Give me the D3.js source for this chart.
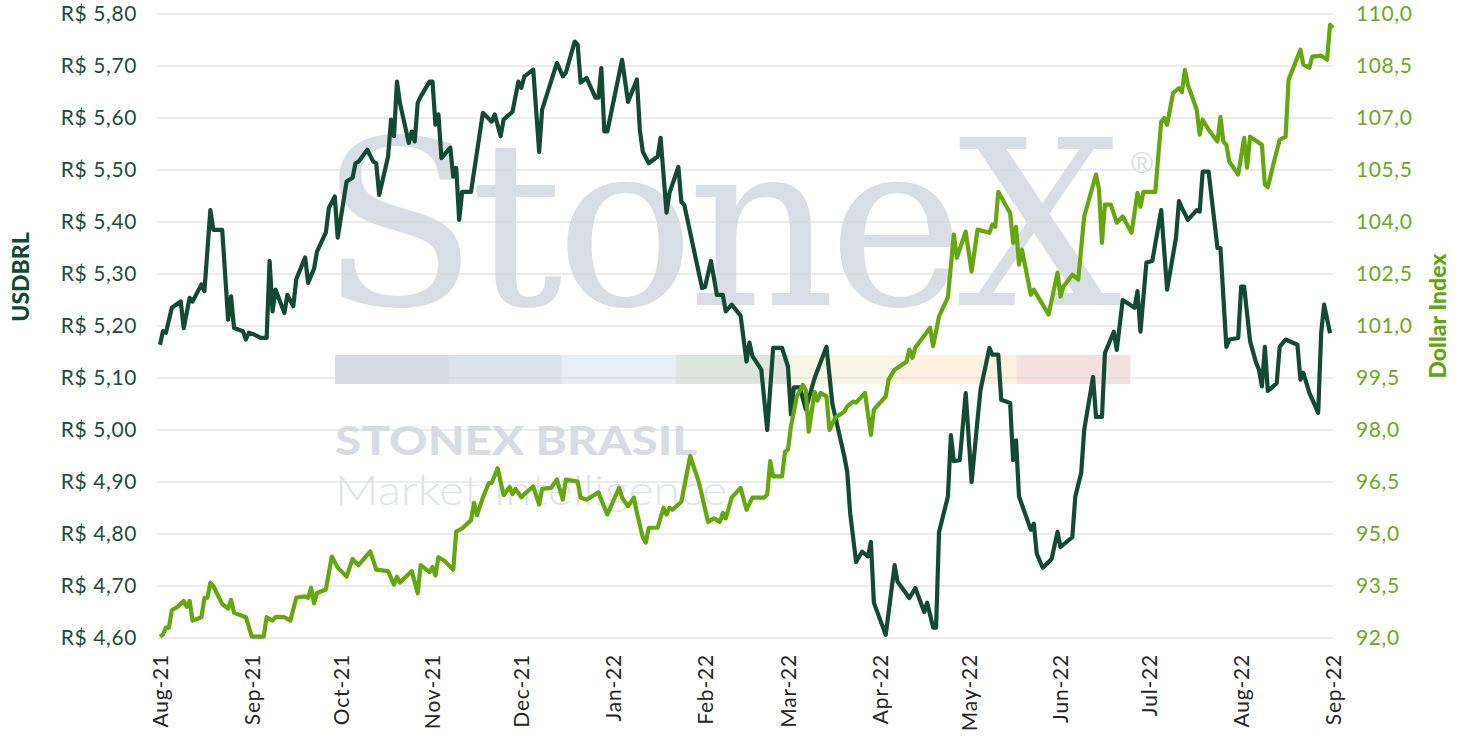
<!DOCTYPE html>
<html>
<head>
<meta charset="utf-8">
<script src="https://cdn.jsdelivr.net/npm/d3@7"></script>
<style>
  html, body { margin: 0; padding: 0; background: #ffffff; }
  #chart { width: 1461px; height: 740px; }
</style>
</head>
<body>
<div id="chart"></div>
<script>
// USDBRL (left axis) - daily closes
const usdDates = [
  "2021-08-01","2021-08-02","2021-08-03","2021-08-05","2021-08-08","2021-08-09","2021-08-11","2021-08-12","2021-08-15","2021-08-16",
  "2021-08-18","2021-08-19","2021-08-22","2021-08-24","2021-08-25","2021-08-26","2021-08-29","2021-08-30","2021-08-31","2021-09-02",
  "2021-09-04","2021-09-06","2021-09-07","2021-09-08","2021-09-09","2021-09-12","2021-09-13","2021-09-15","2021-09-16","2021-09-19",
  "2021-09-20","2021-09-22","2021-09-23","2021-09-26","2021-09-27","2021-09-29","2021-09-30","2021-10-03","2021-10-05","2021-10-06",
  "2021-10-07","2021-10-10","2021-10-12","2021-10-13","2021-10-14","2021-10-17","2021-10-18","2021-10-19","2021-10-20","2021-10-21",
  "2021-10-24","2021-10-25","2021-10-26","2021-10-27","2021-10-28","2021-10-31","2021-11-01","2021-11-02","2021-11-03","2021-11-04",
  "2021-11-07","2021-11-08","2021-11-09","2021-11-10","2021-11-11","2021-11-14","2021-11-18","2021-11-21","2021-11-22","2021-11-24",
  "2021-11-25","2021-11-28","2021-11-30","2021-12-01","2021-12-02","2021-12-05","2021-12-07","2021-12-08","2021-12-13","2021-12-15",
  "2021-12-16","2021-12-19","2021-12-20","2021-12-21","2021-12-23","2021-12-26","2021-12-27","2021-12-28","2021-12-29","2021-12-30",
  "2022-01-04","2022-01-06","2022-01-09","2022-01-10","2022-01-11","2022-01-13","2022-01-16","2022-01-17","2022-01-19","2022-01-20",
  "2022-01-23","2022-01-24","2022-01-25","2022-01-31","2022-02-01","2022-02-03","2022-02-05","2022-02-07","2022-02-08","2022-02-10",
  "2022-02-13","2022-02-15","2022-02-16","2022-02-17","2022-02-20","2022-02-22","2022-02-24","2022-02-27","2022-03-01","2022-03-02",
  "2022-03-03","2022-03-05","2022-03-07","2022-03-10","2022-03-14","2022-03-16","2022-03-18","2022-03-20","2022-03-21","2022-03-22",
  "2022-03-24","2022-03-26","2022-03-28","2022-03-29","2022-03-30","2022-04-03","2022-04-06","2022-04-07","2022-04-11","2022-04-13",
  "2022-04-16","2022-04-17","2022-04-19","2022-04-20","2022-04-21","2022-04-24","2022-04-25","2022-04-26","2022-04-28","2022-04-30",
  "2022-05-02","2022-05-04","2022-05-05","2022-05-08","2022-05-09","2022-05-11","2022-05-12","2022-05-15","2022-05-16","2022-05-17",
  "2022-05-18","2022-05-22","2022-05-23","2022-05-24","2022-05-26","2022-05-29","2022-05-31","2022-06-01","2022-06-05","2022-06-06",
  "2022-06-08","2022-06-09","2022-06-12","2022-06-13","2022-06-15","2022-06-16","2022-06-19","2022-06-20","2022-06-22","2022-06-26",
  "2022-06-27","2022-06-28","2022-06-30","2022-07-02","2022-07-05","2022-07-07","2022-07-10","2022-07-11","2022-07-12","2022-07-14",
  "2022-07-17","2022-07-18","2022-07-19","2022-07-21","2022-07-24","2022-07-25","2022-07-27","2022-07-28","2022-07-31","2022-08-01",
  "2022-08-02","2022-08-04","2022-08-06","2022-08-07","2022-08-08","2022-08-09","2022-08-10","2022-08-13","2022-08-14","2022-08-16",
  "2022-08-20","2022-08-21","2022-08-22","2022-08-24","2022-08-27","2022-08-28","2022-08-29","2022-08-31"
];
const usdValues = [
  5.164,5.19,5.187,5.235,5.247,5.196,5.254,5.247,5.28,5.267,
  5.423,5.385,5.385,5.212,5.257,5.196,5.19,5.174,5.187,5.183,
  5.177,5.177,5.325,5.228,5.27,5.225,5.26,5.238,5.29,5.332,
  5.283,5.31,5.343,5.38,5.427,5.449,5.37,5.478,5.485,5.513,
  5.516,5.539,5.516,5.513,5.452,5.526,5.597,5.565,5.67,5.629,
  5.552,5.574,5.555,5.629,5.641,5.67,5.67,5.587,5.607,5.523,
  5.543,5.487,5.504,5.404,5.458,5.458,5.61,5.593,5.607,5.565,
  5.597,5.612,5.67,5.658,5.68,5.693,5.535,5.616,5.706,5.68,
  5.687,5.747,5.741,5.668,5.677,5.639,5.639,5.696,5.574,5.574,
  5.712,5.631,5.674,5.577,5.535,5.513,5.526,5.562,5.418,5.456,
  5.506,5.439,5.433,5.273,5.275,5.325,5.26,5.26,5.228,5.241,
  5.22,5.132,5.168,5.142,5.116,5.0,5.158,5.158,5.122,5.03,
  5.082,5.082,5.04,5.10,5.16,5.05,5.0,4.95,4.92,4.84,
  4.746,4.766,4.757,4.785,4.668,4.606,4.74,4.708,4.677,4.696,
  4.65,4.668,4.62,4.62,4.804,4.872,4.99,4.94,4.942,5.071,
  4.9,5.02,5.077,5.158,5.145,5.145,5.058,5.052,4.942,4.98,
  4.872,4.808,4.82,4.762,4.735,4.752,4.804,4.775,4.794,4.872,
  4.918,5.0,5.102,5.025,5.025,5.148,5.189,5.154,5.25,5.235,
  5.267,5.189,5.322,5.325,5.423,5.27,5.37,5.44,5.427,5.404,
  5.423,5.42,5.497,5.497,5.35,5.35,5.16,5.174,5.177,5.276,
  5.276,5.171,5.13,5.116,5.084,5.16,5.075,5.09,5.16,5.174,
  5.164,5.097,5.11,5.072,5.033,5.186,5.241,5.186
];

// Dollar Index (right axis)
const dxyDates = [
  "2021-08-01","2021-08-02","2021-08-03","2021-08-04","2021-08-05","2021-08-07","2021-08-09","2021-08-10","2021-08-11","2021-08-12",
  "2021-08-15","2021-08-16","2021-08-17","2021-08-18","2021-08-19","2021-08-22","2021-08-24","2021-08-25","2021-08-26","2021-08-30",
  "2021-09-01","2021-09-05","2021-09-06","2021-09-08","2021-09-09","2021-09-12","2021-09-14","2021-09-16","2021-09-19","2021-09-20",
  "2021-09-21","2021-09-22","2021-09-23","2021-09-26","2021-09-28","2021-09-30","2021-10-03","2021-10-05","2021-10-07","2021-10-11",
  "2021-10-13","2021-10-17","2021-10-19","2021-10-20","2021-10-21","2021-10-25","2021-10-27","2021-10-28","2021-10-31","2021-11-01",
  "2021-11-02","2021-11-03","2021-11-05","2021-11-08","2021-11-09","2021-11-11","2021-11-14","2021-11-15","2021-11-16","2021-11-18",
  "2021-11-20","2021-11-21","2021-11-23","2021-11-25","2021-11-27","2021-11-28","2021-11-29","2021-12-01","2021-12-02","2021-12-05",
  "2021-12-07","2021-12-08","2021-12-11","2021-12-13","2021-12-15","2021-12-16","2021-12-20","2021-12-21","2021-12-23","2021-12-27",
  "2021-12-30","2022-01-02","2022-01-03","2022-01-04","2022-01-06","2022-01-08","2022-01-09","2022-01-11","2022-01-12","2022-01-13",
  "2022-01-16","2022-01-18","2022-01-19","2022-01-20","2022-01-21","2022-01-24","2022-01-27","2022-01-30","2022-02-02","2022-02-04",
  "2022-02-06","2022-02-07","2022-02-08","2022-02-10","2022-02-13","2022-02-15","2022-02-17","2022-02-21","2022-02-22","2022-02-23",
  "2022-02-24","2022-02-27","2022-02-28","2022-03-01","2022-03-02","2022-03-04","2022-03-06","2022-03-07","2022-03-08","2022-03-10",
  "2022-03-11","2022-03-12","2022-03-14","2022-03-15","2022-03-17","2022-03-20","2022-03-21","2022-03-23","2022-03-24","2022-03-27",
  "2022-03-29","2022-03-30","2022-04-03","2022-04-04","2022-04-06","2022-04-10","2022-04-11","2022-04-12","2022-04-13","2022-04-18",
  "2022-04-19","2022-04-21","2022-04-24","2022-04-26","2022-04-27","2022-04-30","2022-05-02","2022-05-04","2022-05-08","2022-05-09",
  "2022-05-10","2022-05-11","2022-05-15","2022-05-16","2022-05-17","2022-05-18","2022-05-19","2022-05-22","2022-05-23","2022-05-28",
  "2022-05-31","2022-06-01","2022-06-02","2022-06-05","2022-06-07","2022-06-09","2022-06-13","2022-06-14","2022-06-15","2022-06-16",
  "2022-06-18","2022-06-20","2022-06-22","2022-06-25","2022-06-27","2022-06-28","2022-06-29","2022-07-03","2022-07-05","2022-07-06",
  "2022-07-07","2022-07-09","2022-07-11","2022-07-12","2022-07-13","2022-07-14","2022-07-17","2022-07-18","2022-07-19","2022-07-21",
  "2022-07-24","2022-07-25","2022-07-26","2022-07-27","2022-07-28","2022-07-31","2022-08-02","2022-08-03","2022-08-04","2022-08-08",
  "2022-08-09","2022-08-10","2022-08-12","2022-08-14","2022-08-16","2022-08-17","2022-08-21","2022-08-22","2022-08-24","2022-08-25",
  "2022-08-28","2022-08-30","2022-08-31","2022-09-01"
];
const dxyValues = [
  92.04,92.1,92.3,92.3,92.8,92.9,93.07,92.9,93.07,92.5,
  92.6,93.16,93.16,93.6,93.5,92.98,92.85,93.1,92.73,92.6,
  92.04,92.04,92.6,92.5,92.6,92.6,92.5,93.16,93.2,93.16,
  93.45,93.0,93.3,93.4,94.35,94.03,93.77,94.28,94.1,94.5,
  93.97,93.93,93.54,93.77,93.6,93.93,93.29,94.1,93.9,94.05,
  93.8,94.33,94.23,93.97,95.07,95.16,95.4,95.9,95.54,96.05,
  96.47,96.47,96.9,96.12,96.36,96.15,96.3,96.06,96.15,96.37,
  95.85,96.3,96.33,96.57,95.99,96.57,96.51,96.05,95.99,96.2,
  95.56,96.14,96.33,96.05,95.8,96.05,95.61,94.9,94.75,95.18,
  95.18,95.76,95.56,95.76,95.7,95.93,97.25,96.47,95.35,95.45,
  95.35,95.61,95.45,96.05,96.33,95.7,96.05,96.05,96.14,97.1,
  96.66,96.66,97.38,97.43,98.1,98.97,99.3,99.15,97.95,99.1,
  98.85,99.07,98.97,98.0,98.36,98.53,98.68,98.82,98.79,99.07,
  97.86,98.59,98.97,99.46,99.74,99.97,100.32,100.08,100.38,100.95,
  100.42,101.28,101.83,103.64,102.97,103.72,102.57,103.78,103.69,103.92,
  103.86,104.87,104.26,103.4,103.86,102.77,103.2,101.9,102.05,101.33,
  102.54,101.85,102.14,102.48,102.34,104.16,105.37,104.94,103.4,104.5,
  104.5,103.98,104.16,103.69,104.84,104.44,104.87,104.87,106.89,107.0,
  106.8,107.72,107.86,107.75,108.39,107.96,107.24,106.52,106.95,106.66,
  106.32,107.03,106.32,106.23,105.74,105.37,106.43,105.57,106.46,106.23,
  105.08,105.0,105.71,106.37,106.46,108.1,108.97,108.54,108.45,108.77,
  108.8,108.68,109.69,109.6
];

// axis ticks
const leftTicks = [4.6, 4.7, 4.8, 4.9, 5.0, 5.1, 5.2, 5.3, 5.4, 5.5, 5.6, 5.7, 5.8];
const rightTicks = [92, 93.5, 95, 96.5, 98, 99.5, 101, 102.5, 104, 105.5, 107, 108.5, 110];
const monthTicks = ["2021-08-01","2021-09-01","2021-10-01","2021-11-01","2021-12-01","2022-01-01","2022-02-01",
  "2022-03-01","2022-04-01","2022-05-01","2022-06-01","2022-07-01","2022-08-01","2022-09-01"];
const monthLabels = ["Aug-21","Sep-21","Oct-21","Nov-21","Dec-21","Jan-22","Feb-22",
  "Mar-22","Apr-22","May-22","Jun-22","Jul-22","Aug-22","Sep-22"];

// watermark band colours
const bandColors = ["#d8dde3", "#dde3ea", "#e7eef5", "#dce6df", "#f8f6e4", "#fcf0de", "#f3e1e1"];

(function() {
  const width = 1461;
  const height = 740;
  const plot = { left: 158, right: 1333, top: 14, bottom: 638 };

  const darkGreen = '#124a33';
  const lightGreen = '#64a70f';

  const parse = d3.timeParse('%Y-%m-%d');

  const svg = d3.select('#chart')
    .append('svg')
    .attr('width', width)
    .attr('height', height)
    .attr('viewBox', [0, 0, width, height]);

  svg.append('rect')
    .attr('width', width)
    .attr('height', height)
    .attr('fill', '#ffffff');

  const x = d3.scaleTime()
    .domain([parse(monthTicks[0]), parse(monthTicks[monthTicks.length - 1])])
    .range([160, plot.right]);
  const yLeft = d3.scaleLinear().domain([4.6, 5.8]).range([plot.bottom, plot.top]);
  const yRight = d3.scaleLinear().domain([92, 110]).range([plot.bottom, plot.top]);

  // watermark
  const wm = svg.append('g').attr('class', 'watermark');
  wm.append('text')
    .attr('x', 320)
    .attr('y', 305)
    .attr('font-family', '"DejaVu Serif", "Liberation Serif", serif')
    .attr('font-size', 230)
    .attr('letter-spacing', -7)
    .attr('fill', '#d9dee4')
    .text('StoneX');
  wm.append('text')
    .attr('x', 1142)
    .attr('y', 173)
    .attr('text-anchor', 'middle')
    .attr('font-family', '"Liberation Sans", sans-serif')
    .attr('font-size', 30)
    .attr('fill', '#d9dee4')
    .text('®');
  const bandW = (1130 - 335) / bandColors.length;
  wm.selectAll('.band')
    .data(bandColors)
    .enter()
    .append('rect')
    .attr('x', (d, i) => 335 + i * bandW)
    .attr('y', 355)
    .attr('width', bandW + 0.5)
    .attr('height', 29)
    .attr('fill', d => d);
  wm.append('text')
    .attr('x', 335)
    .attr('y', 455)
    .attr('font-family', 'Lato, sans-serif')
    .attr('font-weight', 900)
    .attr('font-size', 40)
    .attr('textLength', 362)
    .attr('lengthAdjust', 'spacingAndGlyphs')
    .attr('fill', '#d8dde3')
    .text('STONEX BRASIL');
  wm.append('text')
    .attr('x', 335)
    .attr('y', 505)
    .attr('font-family', 'Lato, sans-serif')
    .attr('font-weight', 300)
    .attr('font-size', 41)
    .attr('textLength', 392)
    .attr('lengthAdjust', 'spacingAndGlyphs')
    .attr('fill', '#e0e4e9')
    .text('Market Intelligence');

  // gridlines
  svg.append('g')
    .selectAll('line')
    .data(leftTicks)
    .enter()
    .append('line')
    .attr('x1', plot.left)
    .attr('x2', plot.right)
    .attr('y1', d => yLeft(d))
    .attr('y2', d => yLeft(d))
    .attr('stroke', '#d9d9d9')
    .attr('stroke-width', 1);

  // left axis
  const fmtLeft = d => 'R$ ' + d.toFixed(2).replace('.', ',');
  const gLeft = svg.append('g')
    .attr('transform', `translate(${plot.left},0)`)
    .call(d3.axisLeft(yLeft).tickValues(leftTicks).tickFormat(fmtLeft).tickSize(0).tickPadding(21));
  gLeft.select('.domain').remove();
  gLeft.selectAll('text')
    .attr('font-family', 'Lato, sans-serif')
    .attr('font-size', 21)
    .attr('letter-spacing', 0.6)
    .attr('fill', '#1c4e39');

  // right axis
  const fmtRight = d => d.toFixed(1).replace('.', ',');
  const gRight = svg.append('g')
    .attr('transform', `translate(${plot.right},0)`)
    .call(d3.axisRight(yRight).tickValues(rightTicks).tickFormat(fmtRight).tickSize(0).tickPadding(23));
  gRight.select('.domain').remove();
  gRight.selectAll('text')
    .attr('font-family', 'Lato, sans-serif')
    .attr('font-size', 21)
    .attr('letter-spacing', 0.6)
    .attr('fill', '#6aab1c');

  // bottom axis
  const gBottom = svg.append('g')
    .attr('transform', `translate(0,${plot.bottom})`)
    .call(d3.axisBottom(x).tickValues(monthTicks.map(parse)).tickFormat((d, i) => monthLabels[i]).tickSize(0));
  gBottom.select('.domain').remove();
  gBottom.selectAll('text')
    .attr('font-family', 'Lato, sans-serif')
    .attr('font-size', 21)
    .attr('letter-spacing', 0.8)
    .attr('fill', '#262626')
    .attr('text-anchor', 'end')
    .attr('x', 0)
    .attr('y', 0)
    .attr('dy', '0.35em')
    .attr('transform', 'translate(0,16) rotate(-90)');

  // axis titles
  svg.append('text')
    .attr('transform', 'translate(29,277) rotate(-90)')
    .attr('text-anchor', 'middle')
    .attr('font-family', 'Lato, sans-serif')
    .attr('font-weight', 900)
    .attr('font-size', 23)
    .attr('fill', '#0f4a32')
    .text('USDBRL');
  svg.append('text')
    .attr('transform', 'translate(1446,316) rotate(-90)')
    .attr('text-anchor', 'middle')
    .attr('font-family', 'Lato, sans-serif')
    .attr('font-weight', 900)
    .attr('font-size', 23)
    .attr('fill', '#62a60f')
    .text('Dollar Index');

  // lines
  const usdLine = d3.line()
    .x((d, i) => x(parse(usdDates[i])))
    .y(d => yLeft(d));
  const dxyLine = d3.line()
    .x((d, i) => x(parse(dxyDates[i])))
    .y(d => yRight(d));

  svg.append('path')
    .datum(usdValues)
    .attr('d', usdLine)
    .attr('fill', 'none')
    .attr('stroke', darkGreen)
    .attr('stroke-width', 4.2)
    .attr('stroke-linejoin', 'round');

  svg.append('path')
    .datum(dxyValues)
    .attr('d', dxyLine)
    .attr('fill', 'none')
    .attr('stroke', lightGreen)
    .attr('stroke-width', 4.2)
    .attr('stroke-linejoin', 'round');
})();
</script>
</body>
</html>
